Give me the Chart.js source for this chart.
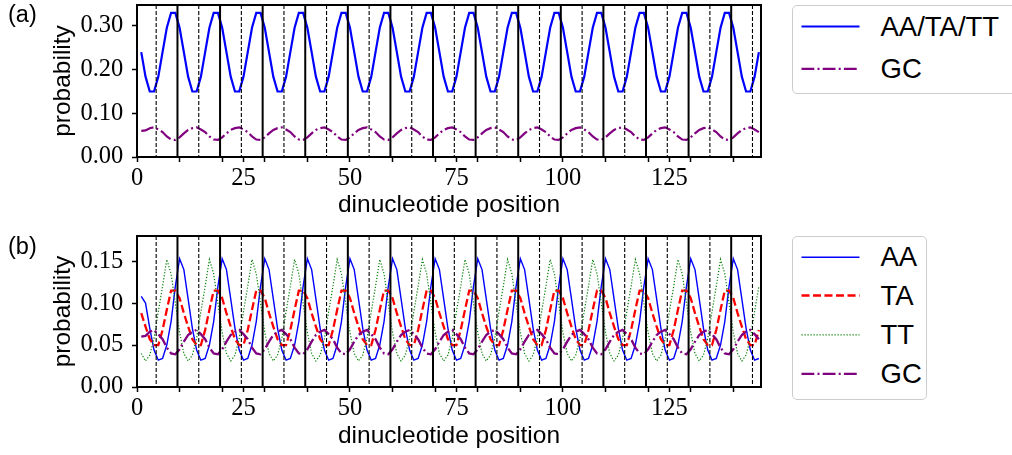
<!DOCTYPE html>
<html>
<head>
<meta charset="utf-8">
<script src="https://cdn.jsdelivr.net/npm/chart.js@4.4.1/dist/chart.umd.min.js"></script>
<style>
  html, body { margin: 0; padding: 0; background: #fff; }
  #page { position: relative; width: 1012px; height: 455px; overflow: hidden;
          font-family: "Liberation Sans", Arial, sans-serif; color: #000; }
  canvas { position: absolute; left: 0; }
  #chartA { top: 0; }
  #chartB { top: 228px; }
  .panel { position: absolute; left: 8px; font-size: 23.5px; line-height: 1; }
  .legend { position: absolute; left: 791.5px; border: 1px solid #cccccc; border-radius: 5px;
            background: #fff; box-sizing: border-box; }
  .legend svg { position: absolute; left: 0; top: 0; overflow: visible; }
  .legend span { position: absolute; left: 88px; font-size: 27.5px; line-height: 1; white-space: nowrap; }
</style>
</head>
<body>
<div id="page">
  <canvas id="chartA" width="1012" height="228"></canvas>
  <canvas id="chartB" width="1012" height="227"></canvas>
  <div class="panel" style="top:3px">(a)</div>
  <div class="panel" style="top:234.5px">(b)</div>
  <div class="legend" id="legA" style="top:4.5px;width:260px;height:89px"></div>
  <div class="legend" id="legB" style="top:235.5px;width:135.5px;height:164px"></div>
</div>
<script>
// ---- data (dinucleotide position 1..146) ----
const POSITIONS = Array.from({ length: 146 }, (_, i) => i + 1);

const P_AATATT = [
  0.240, 0.184, 0.150, 0.150, 0.184, 0.240, 0.296, 0.330, 0.330, 0.296,
  0.240, 0.184, 0.150, 0.150, 0.184, 0.240, 0.296, 0.330, 0.330, 0.296,
  0.240, 0.184, 0.150, 0.150, 0.184, 0.240, 0.296, 0.330, 0.330, 0.296,
  0.240, 0.184, 0.150, 0.150, 0.184, 0.240, 0.296, 0.330, 0.330, 0.296,
  0.240, 0.184, 0.150, 0.150, 0.184, 0.240, 0.296, 0.330, 0.330, 0.296,
  0.240, 0.184, 0.150, 0.150, 0.184, 0.240, 0.296, 0.330, 0.330, 0.296,
  0.240, 0.184, 0.150, 0.150, 0.184, 0.240, 0.296, 0.330, 0.330, 0.296,
  0.240, 0.184, 0.150, 0.150, 0.184, 0.240, 0.296, 0.330, 0.330, 0.296,
  0.240, 0.184, 0.150, 0.150, 0.184, 0.240, 0.296, 0.330, 0.330, 0.296,
  0.240, 0.184, 0.150, 0.150, 0.184, 0.240, 0.296, 0.330, 0.330, 0.296,
  0.240, 0.184, 0.150, 0.150, 0.184, 0.240, 0.296, 0.330, 0.330, 0.296,
  0.240, 0.184, 0.150, 0.150, 0.184, 0.240, 0.296, 0.330, 0.330, 0.296,
  0.240, 0.184, 0.150, 0.150, 0.184, 0.240, 0.296, 0.330, 0.330, 0.296,
  0.240, 0.184, 0.150, 0.150, 0.184, 0.240, 0.296, 0.330, 0.330, 0.296,
  0.240, 0.184, 0.150, 0.150, 0.184, 0.240
];

const P_GC = [
  0.060, 0.061, 0.066, 0.068, 0.063, 0.057, 0.047, 0.040, 0.039, 0.045,
  0.054, 0.062, 0.066, 0.068, 0.063, 0.057, 0.047, 0.040, 0.039, 0.045,
  0.054, 0.062, 0.066, 0.068, 0.063, 0.057, 0.047, 0.040, 0.039, 0.045,
  0.054, 0.062, 0.066, 0.068, 0.063, 0.057, 0.047, 0.040, 0.039, 0.045,
  0.054, 0.062, 0.066, 0.068, 0.063, 0.057, 0.047, 0.040, 0.039, 0.045,
  0.054, 0.062, 0.066, 0.068, 0.063, 0.057, 0.047, 0.040, 0.039, 0.045,
  0.054, 0.062, 0.066, 0.068, 0.063, 0.057, 0.047, 0.040, 0.039, 0.045,
  0.054, 0.062, 0.066, 0.068, 0.063, 0.057, 0.047, 0.040, 0.039, 0.045,
  0.054, 0.062, 0.066, 0.068, 0.063, 0.057, 0.047, 0.040, 0.039, 0.045,
  0.054, 0.062, 0.066, 0.068, 0.063, 0.057, 0.047, 0.040, 0.039, 0.045,
  0.054, 0.062, 0.066, 0.068, 0.063, 0.057, 0.047, 0.040, 0.039, 0.045,
  0.054, 0.062, 0.066, 0.068, 0.063, 0.057, 0.047, 0.040, 0.039, 0.045,
  0.054, 0.062, 0.066, 0.068, 0.063, 0.057, 0.047, 0.040, 0.039, 0.045,
  0.054, 0.062, 0.066, 0.068, 0.063, 0.057, 0.047, 0.040, 0.039, 0.045,
  0.054, 0.062, 0.066, 0.068, 0.063, 0.057
];

const P_AA = [
  0.108, 0.100, 0.070, 0.044, 0.032, 0.034, 0.050, 0.078, 0.120, 0.153,
  0.140, 0.105, 0.070, 0.044, 0.032, 0.034, 0.050, 0.078, 0.120, 0.153,
  0.140, 0.105, 0.070, 0.044, 0.032, 0.034, 0.050, 0.078, 0.120, 0.153,
  0.140, 0.105, 0.070, 0.044, 0.032, 0.034, 0.050, 0.078, 0.120, 0.153,
  0.140, 0.105, 0.070, 0.044, 0.032, 0.034, 0.050, 0.078, 0.120, 0.153,
  0.140, 0.105, 0.070, 0.044, 0.032, 0.034, 0.050, 0.078, 0.120, 0.153,
  0.140, 0.105, 0.070, 0.044, 0.032, 0.034, 0.050, 0.078, 0.120, 0.153,
  0.140, 0.105, 0.070, 0.044, 0.032, 0.034, 0.050, 0.078, 0.120, 0.153,
  0.140, 0.105, 0.070, 0.044, 0.032, 0.034, 0.050, 0.078, 0.120, 0.153,
  0.140, 0.105, 0.070, 0.044, 0.032, 0.034, 0.050, 0.078, 0.120, 0.153,
  0.140, 0.105, 0.070, 0.044, 0.032, 0.034, 0.050, 0.078, 0.120, 0.153,
  0.140, 0.105, 0.070, 0.044, 0.032, 0.034, 0.050, 0.078, 0.120, 0.153,
  0.140, 0.105, 0.070, 0.044, 0.032, 0.034, 0.050, 0.078, 0.120, 0.153,
  0.140, 0.105, 0.070, 0.044, 0.032, 0.034, 0.050, 0.078, 0.120, 0.153,
  0.140, 0.105, 0.070, 0.044, 0.032, 0.034
];

const P_TA = [
  0.088, 0.072, 0.057, 0.050, 0.050, 0.068, 0.092, 0.115, 0.115, 0.106,
  0.088, 0.072, 0.057, 0.050, 0.050, 0.068, 0.092, 0.115, 0.115, 0.106,
  0.088, 0.072, 0.057, 0.050, 0.050, 0.068, 0.092, 0.115, 0.115, 0.106,
  0.088, 0.072, 0.057, 0.050, 0.050, 0.068, 0.092, 0.115, 0.115, 0.106,
  0.088, 0.072, 0.057, 0.050, 0.050, 0.068, 0.092, 0.115, 0.115, 0.106,
  0.088, 0.072, 0.057, 0.050, 0.050, 0.068, 0.092, 0.115, 0.115, 0.106,
  0.088, 0.072, 0.057, 0.050, 0.050, 0.068, 0.092, 0.115, 0.115, 0.106,
  0.088, 0.072, 0.057, 0.050, 0.050, 0.068, 0.092, 0.115, 0.115, 0.106,
  0.088, 0.072, 0.057, 0.050, 0.050, 0.068, 0.092, 0.115, 0.115, 0.106,
  0.088, 0.072, 0.057, 0.050, 0.050, 0.068, 0.092, 0.115, 0.115, 0.106,
  0.088, 0.072, 0.057, 0.050, 0.050, 0.068, 0.092, 0.115, 0.115, 0.106,
  0.088, 0.072, 0.057, 0.050, 0.050, 0.068, 0.092, 0.115, 0.115, 0.106,
  0.088, 0.072, 0.057, 0.050, 0.050, 0.068, 0.092, 0.115, 0.115, 0.106,
  0.088, 0.072, 0.057, 0.050, 0.050, 0.068, 0.092, 0.115, 0.115, 0.106,
  0.088, 0.072, 0.057, 0.050, 0.050, 0.068
];

const P_TT = [
  0.040, 0.031, 0.038, 0.058, 0.090, 0.120, 0.152, 0.135, 0.100, 0.065,
  0.040, 0.031, 0.038, 0.058, 0.090, 0.120, 0.152, 0.135, 0.100, 0.065,
  0.040, 0.031, 0.038, 0.058, 0.090, 0.120, 0.152, 0.135, 0.100, 0.065,
  0.040, 0.031, 0.038, 0.058, 0.090, 0.120, 0.152, 0.135, 0.100, 0.065,
  0.040, 0.031, 0.038, 0.058, 0.090, 0.120, 0.152, 0.135, 0.100, 0.065,
  0.040, 0.031, 0.038, 0.058, 0.090, 0.120, 0.152, 0.135, 0.100, 0.065,
  0.040, 0.031, 0.038, 0.058, 0.090, 0.120, 0.152, 0.135, 0.100, 0.065,
  0.040, 0.031, 0.038, 0.058, 0.090, 0.120, 0.152, 0.135, 0.100, 0.065,
  0.040, 0.031, 0.038, 0.058, 0.090, 0.120, 0.152, 0.135, 0.100, 0.065,
  0.040, 0.031, 0.038, 0.058, 0.090, 0.120, 0.152, 0.135, 0.100, 0.065,
  0.040, 0.031, 0.038, 0.058, 0.090, 0.120, 0.152, 0.135, 0.100, 0.065,
  0.040, 0.031, 0.038, 0.058, 0.090, 0.120, 0.152, 0.135, 0.100, 0.065,
  0.040, 0.031, 0.038, 0.058, 0.090, 0.120, 0.152, 0.135, 0.100, 0.065,
  0.040, 0.031, 0.038, 0.058, 0.090, 0.120, 0.152, 0.135, 0.100, 0.065,
  0.040, 0.031, 0.038, 0.058, 0.090, 0.120
];

// helical-period boundaries
const SOLID_X  = [9.5, 19.5, 29.5, 39.5, 49.5, 59.5, 69.5, 79.5, 89.5, 99.5, 109.5, 119.5, 129.5, 139.5];
const DASHED_X = [4.5, 14.5, 24.5, 34.5, 44.5, 54.5, 64.5, 74.5, 84.5, 94.5, 104.5, 114.5, 124.5, 134.5, 144.5];

// axes
const X_MAX = 146.5;
const X_LABELED = [0, 25, 50, 75, 100, 125];
const X_TICKS = [0, 10, 20, 25, 30, 40, 50, 60, 70, 75, 80, 90, 100, 110, 120, 125, 130, 140];
const Y_TICKS_A = [0, 0.10, 0.20, 0.30];
const Y_TICKS_B = [0, 0.05, 0.10, 0.15];
const Y_MAX_A = 0.348;
const Y_MAX_B = 0.18;

const SANS = '"Liberation Sans", Arial, sans-serif';
const SERIF = '"Liberation Serif", "Times New Roman", serif';

// style per series: [label, color, width, dash]
const STYLE = {
  all:   ['AA/TA/TT', '#0000ff', 2.2, []],
  gcA:   ['GC', '#800080', 2.2, [12.8, 3.2, 2, 3.2]],
  aa:    ['AA', '#0000ff', 1.4, []],
  ta:    ['TA', '#ff0000', 2.3, [8, 3.5]],
  tt:    ['TT', '#008000', 1.2, [1.2, 1.8]],
  gcB:   ['GC', '#800080', 2.3, [12.8, 3.2, 2, 3.2]]
};

function series(key, values, order) {
  const [label, color, width, dash] = STYLE[key];
  return {
    label, order,
    data: POSITIONS.map((x, i) => ({ x, y: values[i] })),
    borderColor: color, backgroundColor: color,
    borderWidth: width, borderDash: dash,
    pointRadius: 0, tension: 0, fill: false
  };
}

// vertical boundary lines + closed frame
const frame = {
  id: 'frame',
  afterDatasetsDraw(chart) {
    const { ctx, chartArea: a } = chart;
    const xs = chart.scales.x;
    ctx.save();
    ctx.beginPath(); ctx.rect(a.left, a.top, a.width, a.height); ctx.clip();
    ctx.strokeStyle = '#000';
    ctx.lineWidth = 1.1; ctx.setLineDash([4, 2]);
    DASHED_X.forEach(v => {
      const p = xs.getPixelForValue(v);
      ctx.beginPath(); ctx.moveTo(p, a.top); ctx.lineTo(p, a.bottom); ctx.stroke();
    });
    ctx.lineWidth = 2; ctx.setLineDash([]);
    SOLID_X.forEach(v => {
      const p = xs.getPixelForValue(v);
      ctx.beginPath(); ctx.moveTo(p, a.top); ctx.lineTo(p, a.bottom); ctx.stroke();
    });
    ctx.restore();
    ctx.save();
    ctx.strokeStyle = '#000'; ctx.lineWidth = 2;
    ctx.strokeRect(a.left, a.top, a.width, a.height);
    ctx.restore();
  }
};

function makeChart(id, datasets, yMax, yTicks, g) {
  const grid = { drawOnChartArea: false, drawTicks: true, tickLength: 5, tickWidth: 1.5, tickColor: '#000' };
  return new Chart(document.getElementById(id), {
    type: 'line',
    data: { datasets },
    options: {
      responsive: false, animation: false, events: [],
      layout: { autoPadding: false, padding: { left: 0, top: g.top, right: 251, bottom: 0 } },
      plugins: { legend: { display: false }, tooltip: { enabled: false } },
      scales: {
        x: {
          type: 'linear', min: 0, max: X_MAX,
          afterFit: s => { s.height = g.xAxis; s.paddingLeft = 0; s.paddingRight = 0; },
          afterBuildTicks: s => { s.ticks = X_TICKS.map(v => ({ value: v })); },
          grid, border: { display: false },
          ticks: { autoSkip: false, maxRotation: 0, padding: 2, color: '#000',
                   font: { family: SERIF, size: 24.5 },
                   callback: v => X_LABELED.includes(v) ? String(v) : '' },
          title: { display: true, text: 'dinucleotide position', color: '#000',
                   font: { family: SANS, size: 24.5 }, padding: { top: 0, bottom: g.xTitlePad } }
        },
        y: {
          type: 'linear', min: 0, max: yMax,
          afterFit: s => { s.width = 137; s.paddingTop = 0; s.paddingBottom = 0; },
          afterBuildTicks: s => { s.ticks = yTicks.map(v => ({ value: v })); },
          grid, border: { display: false },
          ticks: { padding: 8.7, color: '#000', font: { family: SERIF, size: 24.5 },
                   callback: v => v.toFixed(2) },
          title: { display: true, text: 'probability', color: '#000',
                   font: { family: SANS, size: 24.5 }, padding: { top: 48.6, bottom: 0 } }
        }
      }
    },
    plugins: [frame]
  });
}

makeChart('chartA', [
  series('all', P_AATATT, 1),
  series('gcA', P_GC, 0)
], Y_MAX_A, Y_TICKS_A, { top: 5, xAxis: 71, xTitlePad: 8.5 });

makeChart('chartB', [
  series('aa', P_AA, 3),
  series('ta', P_TA, 2),
  series('tt', P_TT, 1),
  series('gcB', P_GC, 0)
], Y_MAX_B, Y_TICKS_B, { top: 8, xAxis: 68, xTitlePad: 4 });

// legends (html, rows positioned inside the boxes)
function buildLegend(id, keys, lineY, textY) {
  const box = document.getElementById(id);
  const ns = 'http://www.w3.org/2000/svg';
  const svg = document.createElementNS(ns, 'svg');
  svg.setAttribute('width', '80'); svg.setAttribute('height', '170');
  keys.forEach((k, i) => {
    const [label, color, width, dash] = STYLE[k];
    const ln = document.createElementNS(ns, 'line');
    ln.setAttribute('x1', 8.5); ln.setAttribute('x2', 66.5);
    ln.setAttribute('y1', lineY[i]); ln.setAttribute('y2', lineY[i]);
    ln.setAttribute('stroke', color); ln.setAttribute('stroke-width', width);
    if (dash.length) ln.setAttribute('stroke-dasharray', dash.join(' '));
    svg.appendChild(ln);
    const sp = document.createElement('span');
    sp.textContent = label; sp.style.top = textY[i] + 'px';
    box.appendChild(sp);
  });
  box.appendChild(svg);
}
buildLegend('legA', ['all', 'gcA'], [20.5, 62.8], [7.9, 49.5]);
buildLegend('legB', ['aa', 'ta', 'tt', 'gcB'], [20.2, 58.5, 97.8, 136.8], [6.9, 45.9, 84.5, 123.5]);
</script>
</body>
</html>
